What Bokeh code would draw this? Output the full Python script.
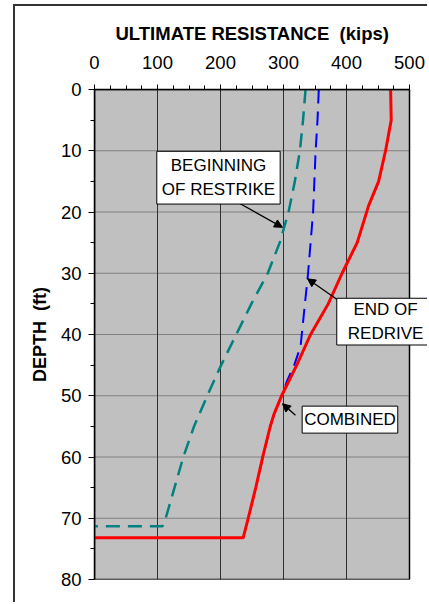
from bokeh.plotting import figure
from bokeh.models import Range1d, FixedTicker, Label, Arrow, NormalHead
from bokeh.embed import file_html
from bokeh.resources import INLINE

# ---------------- data ----------------
combined_res = [470, 471, 462, 451, 435, 417, 393, 371, 343, 321, 297, 285, 279, 267, 256, 244, 236, 0]
combined_dep = [0, 5, 10, 15, 19, 25, 30, 35, 40, 45, 50, 53, 55, 60, 65, 70, 73.2, 73.2]

redrive_res = [356, 354, 351, 349, 347, 343, 339, 338, 334, 329, 327, 317, 306, 297, 285, 279, 267, 263]
redrive_dep = [0, 5, 10, 15, 20, 25, 30, 31, 35, 40, 42, 45, 47.5, 50, 53, 55, 60, 62]

restrike_res = [335, 331, 326, 318, 308, 294, 275, 249, 225, 201, 179, 158, 141, 127, 113, 108, 0]
restrike_dep = [0, 5, 10, 15, 20, 25, 30, 35, 40, 45, 50, 55, 60, 65, 70, 71.3, 71.3]

x_ticks = [0, 100, 200, 300, 400, 500]
y_ticks = [0, 10, 20, 30, 40, 50, 60, 70, 80]

FONT = "Liberation Sans"
NBSP = "\u00a0"

# layout (pixels)
CANVAS_W, CANVAS_H = 414, 598
BORDER_L, BORDER_T, BORDER_B = 79, 83, 25
PLOT_W = 315                     # width of the grey chart area
frame_w = CANVAS_W - BORDER_L    # frame extends to right edge so callouts can overhang
x_end = x_ticks[-1] * frame_w / PLOT_W

p = figure(width=CANVAS_W, height=CANVAS_H, output_backend="svg", toolbar_location=None,
           x_range=Range1d(x_ticks[0], x_end), y_range=Range1d(y_ticks[-1], y_ticks[0]),
           x_axis_location="above", min_border_left=BORDER_L, min_border_right=0,
           min_border_top=BORDER_T, min_border_bottom=BORDER_B,
           title="ULTIMATE RESISTANCE " + NBSP + "(kips)", title_location="above",
           styles={"margin-left": "13px", "margin-top": "4px",
                   "border-left": "2px solid #333333", "border-top": "2px solid #333333"})
p.background_fill_color = "white"
p.border_fill_color = "white"
p.outline_line_color = None
p.grid.visible = False

p.title.align = "left"
p.title.offset = 21
p.title.text_font = FONT
p.title.text_font_style = "bold"
p.title.text_font_size = "18.5px"
p.title.text_color = "black"
p.title.standoff = 17

xa = p.xaxis[0]
xa.ticker = FixedTicker(ticks=x_ticks, minor_ticks=list(range(0, 501, 25)))
xa.bounds = (x_ticks[0], x_ticks[-1])
ya = p.yaxis[0]
ya.ticker = FixedTicker(ticks=y_ticks, minor_ticks=list(range(0, 81, 5)))
ya.axis_label = "DEPTH " + NBSP + "(ft)"
ya.axis_label_text_font = FONT
ya.axis_label_text_font_style = "bold"
ya.axis_label_text_font_size = "18px"
ya.axis_label_text_color = "black"
for ax in (xa, ya):
    ax.major_label_text_font = FONT
    ax.major_label_text_font_size = "18.5px"
    ax.major_label_text_color = "black"
    ax.axis_line_color = "black"
    ax.axis_line_width = 1.5
    ax.major_tick_line_color = "black"
    ax.minor_tick_line_color = "black"
    ax.major_tick_in = 0
    ax.minor_tick_in = 0
xa.major_tick_out = 5
xa.minor_tick_out = 4
ya.major_tick_out = 6
ya.minor_tick_out = 4
xa.major_label_standoff = 16
ya.major_label_standoff = 7
ya.axis_label_standoff = 8

# grey chart area
p.quad(left=x_ticks[0], right=x_ticks[-1], top=y_ticks[0], bottom=y_ticks[-1],
       fill_color="#C0C0C0", line_color=None)
# grid lines
p.segment(x0=x_ticks[0], x1=x_ticks[-1], y0=y_ticks, y1=y_ticks,
          line_color="#808080", line_width=1)
p.segment(x0=x_ticks, x1=x_ticks, y0=y_ticks[0], y1=y_ticks[-1],
          line_color="#303030", line_width=1)
# chart border
p.quad(left=x_ticks[0], right=x_ticks[-1], top=y_ticks[0], bottom=y_ticks[-1],
       fill_color=None, line_color="black", line_width=1.5)

p.line(restrike_res, restrike_dep, line_color="#008080", line_width=2.5, line_dash="14 8")
p.line(redrive_res, redrive_dep, line_color="#0000FF", line_width=2, line_dash="14 8")
p.line(combined_res, combined_dep, line_color="#FF0000", line_width=3)

def box(text, x, y, pad):
    lab = Label(x=x, y=y, text=text, text_font=FONT, text_font_size="17px",
                text_color="black", text_align="center", text_baseline="middle",
                text_line_height=1.25,
                border_line_color="black", border_line_width=1,
                background_fill_color="white", padding=pad)
    p.add_layout(lab)

def arrow(x0, y0, x1, y1):
    p.add_layout(Arrow(x_start=x0, y_start=y0, x_end=x1, y_end=y1,
                       line_color="black", line_width=1.3,
                       end=NormalHead(size=8, fill_color="black", line_color="black")))

arrow(212.7, 17.6, 298.4, 22.5)
arrow(403.2, 35.6, 338.1, 30.9)
arrow(319.0, 53.2, 298.4, 51.3)
box("BEGINNING\nOF RESTRIKE", 196.8, 14.4, (5, 5))
box("END OF\nREDRIVE", 462, 37.9, (11, 2))
box("COMBINED", 405.5, 53.9, (2, 4))

open("out.html", "w").write(file_html(p, INLINE))
